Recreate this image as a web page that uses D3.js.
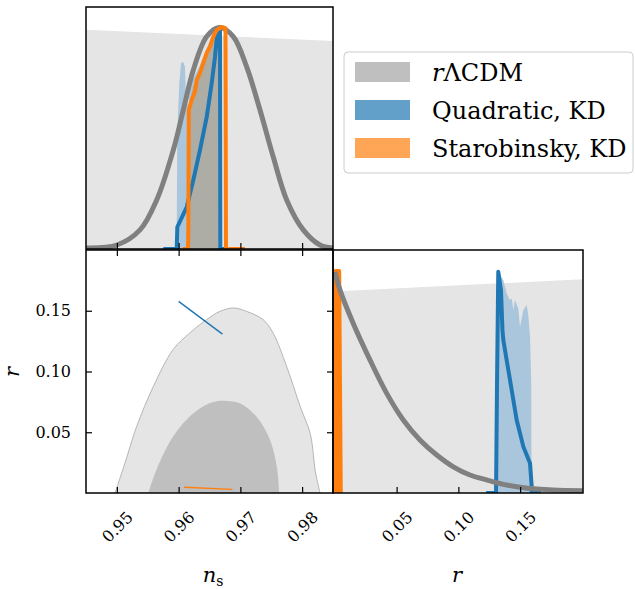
<!DOCTYPE html>
<html>
<head>
<meta charset="utf-8">
<script src="https://cdn.jsdelivr.net/npm/d3@7"></script>
<style>
  html, body { margin: 0; padding: 0; background: #ffffff; }
  svg { display: block; }
  text { font-family: "DejaVu Serif", "Liberation Serif", serif; fill: #000; }
</style>
</head>
<body>
<svg id="chart" width="635" height="589"></svg>
<script>
// ---- Tick values and labels ----
const nsTicks = [0.95, 0.96, 0.97, 0.98];
const nsTickLabels = ["0.95", "0.96", "0.97", "0.98"];
const rTicks = [0.05, 0.10, 0.15];
const rTickLabels = ["0.05", "0.10", "0.15"];

// ---- Legend ----
const seriesNames = ["rΛCDM", "Quadratic, KD", "Starobinsky, KD"];
const seriesPatchColors = ["#bfbfbf", "#62a0ca", "#ffa556"];

// ---- 1D marginal of n_s ----
// rΛCDM posterior (line)
const nsCdm = [0.945, 0.9500, 0.95375, 0.95645, 0.95914, 0.96076, 0.96238, 0.96455, 0.96659, 0.96885, 0.97102, 0.97318, 0.97533, 0.9775, 0.98019, 0.98289, 0.985];
const pNsCdm = [0.005, 0.018, 0.086, 0.221, 0.446, 0.626, 0.806, 0.957, 0.998, 0.957, 0.820, 0.626, 0.414, 0.221, 0.086, 0.018, 0.005];
// broad shaded band
const nsBroad = [0.945, 0.985];
const pNsBroad = [0.987, 0.937];
// Quadratic, KD shaded marginal
const nsQuadFill = [0.95958, 0.95969, 0.95979, 0.96011, 0.96038, 0.96076, 0.96103, 0.96119, 0.96157, 0.96184, 0.96346, 0.96476, 0.96573, 0.96638, 0.96662, 0.96662];
const pNsQuadFill = [0, 0.072, 0.523, 0.748, 0.838, 0.842, 0.820, 0.671, 0.640, 0.739, 0.829, 0.919, 0.977, 0.995, 0.995, 0];
// Starobinsky, KD shaded marginal
const nsStaroFill = [0.96184, 0.96184, 0.96238, 0.96319, 0.96374, 0.96427, 0.96508, 0.96562, 0.96605, 0.96646, 0.96646];
const pNsStaroFill = [0, 0.671, 0.739, 0.761, 0.806, 0.851, 0.896, 0.941, 0.986, 0.995, 0];
// Quadratic, KD marginal (line)
const nsQuad = [0.95752, 0.95969, 0.95979, 0.96131, 0.96238, 0.96346, 0.96455, 0.96536, 0.96589, 0.96626, 0.96643, 0.9667, 0.96675, 0.96881];
const pNsQuad = [0, 0, 0.099, 0.189, 0.311, 0.446, 0.595, 0.748, 0.865, 0.973, 0.995, 0.991, 0, 0];
// Starobinsky, KD marginal (line)
const nsStaro = [0.96071, 0.96152, 0.96157, 0.96165, 0.96212, 0.96265, 0.96293, 0.96346, 0.964, 0.96455, 0.96508, 0.96562, 0.96617, 0.96698, 0.96759, 0.96767, 0.97075];
const pNsStaro = [0, 0, 0.086, 0.626, 0.671, 0.709, 0.761, 0.793, 0.838, 0.883, 0.911, 0.956, 0.986, 1.0, 0.995, 0, 0];

// ---- 2D n_s - r contours (rΛCDM) ----
const ns95 = [0.9497, 0.9513, 0.9532, 0.9559, 0.9591, 0.9618, 0.9645, 0.9667, 0.9689, 0.9710, 0.9737, 0.9753, 0.9775, 0.9797, 0.9813, 0.9818, 0.9821, 0.9829];
const r95 = [0, 0.0245, 0.0547, 0.0876, 0.118, 0.1317, 0.1426, 0.1495, 0.1523, 0.1495, 0.1426, 0.1317, 0.1041, 0.0711, 0.0492, 0.0327, 0.019, 0];
const ns68 = [0.9551, 0.9564, 0.9591, 0.9624, 0.9656, 0.9678, 0.9699, 0.9726, 0.9748, 0.9759, 0.9763];
const r68 = [0, 0.019, 0.0464, 0.0657, 0.0748, 0.0758, 0.0739, 0.0629, 0.0437, 0.0217, 0];
// model predictions
const nsQuad2d = [0.9600, 0.9671];
const rQuad2d = [0.1577, 0.1308];
const nsStaro2d = [0.9609, 0.9687];
const rStaro2d = [0.0047, 0.0030];

// ---- 1D marginal of r ----
const rCdm = [0.0001, 0.0042, 0.0149, 0.0285, 0.0420, 0.0554, 0.0689, 0.0825, 0.0959, 0.1094, 0.1229, 0.1364, 0.1499, 0.1634, 0.1768, 0.2007];
const pRCdm = [0.997, 0.914, 0.764, 0.599, 0.449, 0.329, 0.239, 0.171, 0.118, 0.081, 0.059, 0.039, 0.026, 0.018, 0.0135, 0.010];
const rBroad = [-0.0015, 0.2009];
const pRBroad = [0.908, 0.963];
const rQuadFill = [0.1305, 0.1310, 0.1323, 0.1364, 0.1391, 0.1418, 0.1432, 0.1445, 0.1458, 0.1485, 0.1499, 0.1526, 0.1553, 0.1566, 0.1580, 0.1590, 0.1592];
const pRQuadFill = [0, 0.9, 0.997, 0.959, 0.900, 0.869, 0.878, 0.824, 0.869, 0.832, 0.749, 0.824, 0.847, 0.802, 0.704, 0.5, 0];
const rQuad = [0.1225, 0.1305, 0.1313, 0.1323, 0.1345, 0.1357, 0.1364, 0.1418, 0.1472, 0.1526, 0.1580, 0.1594, 0.1594, 0.1670];
const pRQuad = [0, 0, 0.5, 0.997, 0.914, 0.734, 0.689, 0.509, 0.329, 0.209, 0.134, 0.028, 0, 0];
const rStaro = [0.0005, 0.0005, 0.0035, 0.0048];
const pRStaro = [0, 1.0, 1.0, 0];

// ---- colours ----
const C = {
  blue: "#1f77b4", orange: "#ff7f0e", gray: "#808080",
  broad: "#e5e5e5", inner: "#bfbfbf", quadFill: "#aac6dc", staroFill: "#adada6"
};

const svg = d3.select("#chart");
const zip = (a, b) => a.map((v, i) => [v, b[i]]);

// panel geometry
const TL = {x0: 86, x1: 333, y0: 7, y1: 249};
const BL = {x0: 86, x1: 333, y0: 250, y1: 493};
const BR = {x0: 333, x1: 583, y0: 250, y1: 493};

const xNs = d3.scaleLinear().domain([0.945, 0.985]).range([TL.x0, TL.x1]);
const yNsP = d3.scaleLinear().domain([0, 1.09]).range([TL.y1, TL.y0]);
const yR = d3.scaleLinear().domain([0, 0.2]).range([BL.y1, BL.y0]);
const xR = d3.scaleLinear().domain([-0.0015, 0.2009]).range([BR.x0, BR.x1]);
const yRP = d3.scaleLinear().domain([0, 1.095]).range([BR.y1, BR.y0]);

function clip(id, p) {
  svg.append("clipPath").attr("id", id).append("rect")
    .attr("x", p.x0).attr("y", p.y0).attr("width", p.x1 - p.x0).attr("height", p.y1 - p.y0);
}
clip("cTL", TL); clip("cBL", BL); clip("cBR", BR);

const linear = d3.curveLinear, smooth = d3.curveCatmullRom;

// ================= top-left: n_s marginal =================
const gTL = svg.append("g").attr("clip-path", "url(#cTL)");
const areaNs = d3.area().x(d => xNs(d[0])).y0(yNsP(0)).y1(d => yNsP(d[1]));
const lineNs = c => d3.line().curve(c).x(d => xNs(d[0])).y(d => yNsP(d[1]));

gTL.append("path").datum(zip(nsBroad, pNsBroad)).attr("d", areaNs).attr("fill", C.broad);
gTL.append("path").datum(zip(nsQuadFill, pNsQuadFill)).attr("d", areaNs).attr("fill", C.quadFill);
gTL.append("path").datum(zip(nsStaroFill, pNsStaroFill)).attr("d", areaNs).attr("fill", C.staroFill);
gTL.append("path").datum(zip(nsQuad, pNsQuad)).attr("d", lineNs(linear))
  .attr("fill", "none").attr("stroke", C.blue).attr("stroke-width", 4).attr("stroke-linejoin", "round");
gTL.append("path").datum(zip(nsCdm, pNsCdm)).attr("d", lineNs(smooth))
  .attr("fill", "none").attr("stroke", C.gray).attr("stroke-width", 5);
gTL.append("path").datum(zip(nsStaro, pNsStaro)).attr("d", lineNs(linear))
  .attr("fill", "none").attr("stroke", C.orange).attr("stroke-width", 4).attr("stroke-linejoin", "round");

// ================= bottom-left: n_s - r plane =================
const gBL = svg.append("g").attr("clip-path", "url(#cBL)");
const line2d = c => d3.line().curve(c).x(d => xNs(d[0])).y(d => yR(d[1]));
gBL.append("path").attr("d", line2d(smooth)(zip(ns95, r95)) + "Z")
  .attr("fill", C.broad).attr("stroke", "#a6a6a6").attr("stroke-width", 0.8);
gBL.append("path").attr("d", line2d(smooth)(zip(ns68, r68)) + "Z")
  .attr("fill", C.inner);
gBL.append("path").datum(zip(nsQuad2d, rQuad2d)).attr("d", line2d(linear))
  .attr("fill", "none").attr("stroke", C.blue).attr("stroke-width", 1.4);
gBL.append("path").datum(zip(nsStaro2d, rStaro2d)).attr("d", line2d(linear))
  .attr("fill", "none").attr("stroke", C.orange).attr("stroke-width", 1.4);

// ================= bottom-right: r marginal =================
const gBR = svg.append("g").attr("clip-path", "url(#cBR)");
const areaR = d3.area().x(d => xR(d[0])).y0(yRP(0)).y1(d => yRP(d[1]));
const lineR = c => d3.line().curve(c).x(d => xR(d[0])).y(d => yRP(d[1]));
gBR.append("path").datum(zip(rBroad, pRBroad)).attr("d", areaR).attr("fill", C.broad);
gBR.append("path").datum(zip(rQuadFill, pRQuadFill)).attr("d", areaR).attr("fill", C.quadFill);
gBR.append("path").datum(zip(rStaro, pRStaro)).attr("d", lineR(linear))
  .attr("fill", C.orange).attr("stroke", C.orange).attr("stroke-width", 4).attr("stroke-linejoin", "round");
gBR.append("path").datum(zip(rQuad, pRQuad)).attr("d", lineR(linear))
  .attr("fill", "none").attr("stroke", C.blue).attr("stroke-width", 4).attr("stroke-linejoin", "round");
gBR.append("path").datum(zip(rCdm, pRCdm)).attr("d", lineR(smooth))
  .attr("fill", "none").attr("stroke", C.gray).attr("stroke-width", 5);

// ================= axes =================
function styleAxis(g) {
  g.select(".domain").remove();
  g.selectAll(".tick line").attr("stroke", "#000").attr("stroke-width", 1.2);
  g.selectAll(".tick text").style("font-family", "'DejaVu Serif', serif").style("font-size", "16px").attr("fill", "#000");
}
const noLab = () => "";

// top-left bottom ticks
svg.append("g").attr("transform", `translate(0,${TL.y1})`)
  .call(d3.axisBottom(xNs).tickValues(nsTicks).tickSize(-6).tickFormat(noLab)).call(styleAxis);
// bottom-left ticks on all sides
svg.append("g").attr("transform", `translate(0,${BL.y0})`)
  .call(d3.axisTop(xNs).tickValues(nsTicks).tickSize(-6).tickFormat(noLab)).call(styleAxis);
svg.append("g").attr("transform", `translate(${BL.x1},0)`)
  .call(d3.axisRight(yR).tickValues(rTicks).tickSize(-6).tickFormat(noLab)).call(styleAxis);
const axNs = svg.append("g").attr("transform", `translate(0,${BL.y1})`)
  .call(d3.axisBottom(xNs).tickValues(nsTicks).tickSize(-6).tickFormat((d, i) => nsTickLabels[i])).call(styleAxis);
axNs.selectAll(".tick text").attr("y", 0).attr("dy", "0.35em").attr("text-anchor", "middle")
  .attr("transform", "translate(0,34) rotate(-45)");
const axR = svg.append("g").attr("transform", `translate(${BL.x0},0)`)
  .call(d3.axisLeft(yR).tickValues(rTicks).tickSize(-6).tickFormat((d, i) => rTickLabels[i])).call(styleAxis);
axR.selectAll(".tick text").attr("x", -15);
// bottom-right ticks
const axR2 = svg.append("g").attr("transform", `translate(0,${BR.y1})`)
  .call(d3.axisBottom(xR).tickValues(rTicks).tickSize(-6).tickFormat((d, i) => rTickLabels[i])).call(styleAxis);
axR2.selectAll(".tick text").attr("y", 0).attr("dy", "0.35em").attr("text-anchor", "middle")
  .attr("transform", "translate(0,34) rotate(-45)");

// frames
[TL, BL, BR].forEach(p => {
  svg.append("rect").attr("x", p.x0).attr("y", p.y0).attr("width", p.x1 - p.x0).attr("height", p.y1 - p.y0)
    .attr("fill", "none").attr("stroke", "#000").attr("stroke-width", 1.5);
});

// axis titles
const tNs = svg.append("text").attr("x", 213).attr("y", 582).attr("text-anchor", "middle").style("font-size", "21px");
tNs.append("tspan").attr("font-style", "italic").text("n");
tNs.append("tspan").attr("dy", 4).style("font-size", "14px").text("s");
svg.append("text").attr("x", 457).attr("y", 582).attr("text-anchor", "middle").style("font-size", "21px")
  .attr("font-style", "italic").text("r");
svg.append("text").attr("transform", "translate(19,372) rotate(-90)").attr("text-anchor", "middle")
  .style("font-size", "21px").attr("font-style", "italic").text("r");

// legend
const lg = svg.append("g");
lg.append("rect").attr("x", 344).attr("y", 52).attr("width", 289).attr("height", 121).attr("rx", 4)
  .attr("fill", "#fff").attr("fill-opacity", 0.8).attr("stroke", "#cccccc").attr("stroke-width", 1);
seriesNames.forEach((name, i) => {
  const cy = 72 + i * 38;
  lg.append("rect").attr("x", 355).attr("y", cy - 10).attr("width", 55).attr("height", 20).attr("fill", seriesPatchColors[i]);
  const t = lg.append("text").attr("x", 432).attr("y", cy + 9).style("font-size", "24px");
  if (name.startsWith("r")) {
    t.append("tspan").attr("font-style", "italic").text("r");
    t.append("tspan").text(name.slice(1));
  } else {
    t.text(name);
  }
});
</script>
</body>
</html>
